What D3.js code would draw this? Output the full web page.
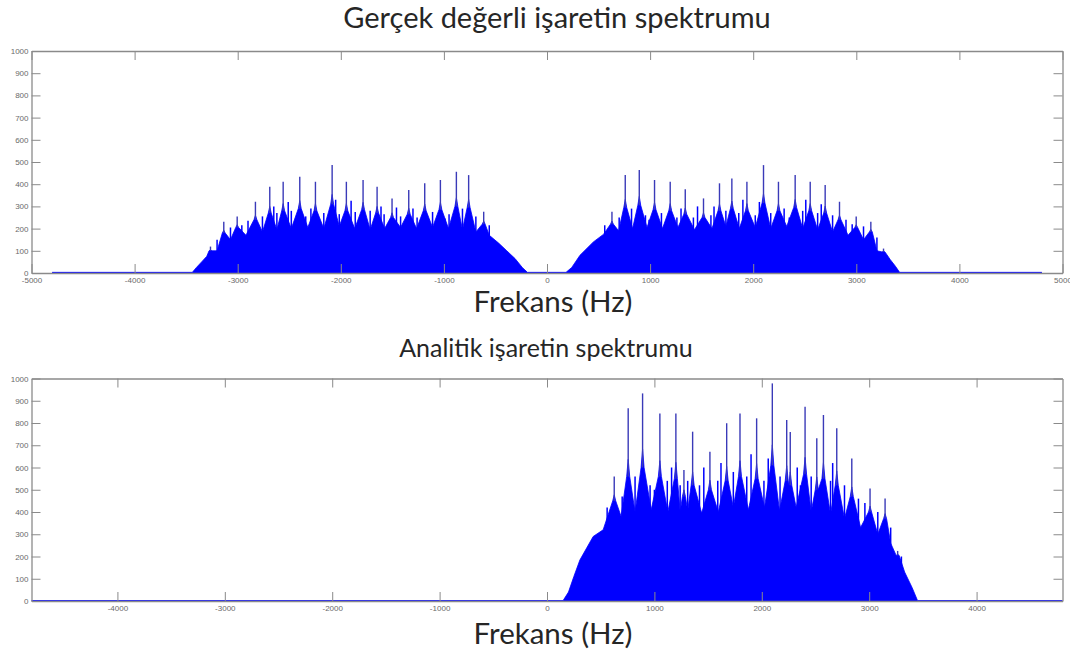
<!DOCTYPE html>
<html>
<head>
<meta charset="utf-8">
<script src="https://cdn.jsdelivr.net/npm/d3@7"></script>
<style>
  body { margin: 0; background: #fff; }
  svg { display: block; }
  .tick text { font-family: "Liberation Sans", Arial, sans-serif; font-size: 8px; fill: #6a6a6a; }
  .title { font-family: Lato, "Open Sans", sans-serif; fill: #262626; text-anchor: middle; }
</style>
</head>
<body>
<svg id="chart" width="1070" height="657"></svg>
<script>
// ---- Real-valued signal spectrum: body level of the filled magnitude ----
const realBodyHz  = [-4800, -3440, -3400, -3350, -3300, -3200, -3070, -2920, -2760, -2620, -2480, -2320,
                     -2165, -2015, -1865, -1715, -1575, -1420, -1265, -1110, -955, -820, -690, -560,
                     -470, -390, -310, -240, -190, 185, 240, 320, 450, 550, 695, 830, 970, 1120, 1270,
                     1430, 1600, 1735, 1865, 2020, 2170, 2325, 2480, 2625, 2770, 2920, 3070, 3200,
                     3330, 3380, 3420, 4800];
const realBodyVal = [3, 3, 25, 50, 75, 100, 150, 170, 185, 195, 200, 205,
                     200, 210, 200, 195, 200, 205, 200, 205, 200, 195, 185, 170,
                     135, 100, 65, 25, 3, 3, 25, 80, 140, 175, 190, 200, 205, 200, 205,
                     195, 200, 210, 200, 205, 200, 210, 200, 195, 185, 170, 150, 100,
                     60, 30, 3, 3];

// Harmonic peaks of the real-valued spectrum (tip and the hump under it)
const realPeakHz  = [-3264, -3135, -3005, -2828, -2689, -2559, -2398, -2246, -2084, -1946, -1784, -1648,
                     -1503, -1341, -1186, -1034, -879, -760, -614,
                     630, 759, 895, 1043, 1195, 1341, 1518, 1673, 1793, 1939, 2100, 2245, 2407,
                     2553, 2698, 2837, 2999, 3141, 3264];
const realPeakVal = [119, 231, 254, 321, 389, 411, 434, 411, 486, 411, 419, 389,
                     336, 374, 404, 419, 456, 441, 276,
                     276, 441, 464, 419, 411, 377, 336, 404, 426, 411, 486, 411, 441,
                     411, 396, 321, 254, 231, 110];
const realHumpVal = [100, 180, 205, 240, 270, 280, 290, 280, 310, 280, 285, 270,
                     250, 265, 280, 285, 300, 295, 220,
                     220, 295, 305, 285, 280, 265, 250, 280, 290, 280, 315, 280, 295,
                     280, 270, 240, 205, 185, 95];

// Smaller spikes riding on the body between harmonics
const realMinorHz  = [-3200, -3070, -2960, -2900, -2760, -2650, -2620, -2510, -2480, -2340, -2290, -2165,
                      -2050, -2015, -1900, -1860, -1715, -1610, -1580, -1460, -1420, -1300, -1260, -1110,
                      -990, -950, -820, -690, -560,
                      560, 700, 820, 955, 990, 1110, 1260, 1300, 1420, 1460, 1590, 1620, 1735,
                      1860, 1900, 2020, 2060, 2170, 2300, 2350, 2480, 2510, 2625, 2660, 2770,
                      2900, 2960, 3070, 3200];
const realMinorVal = [150, 205, 215, 235, 255, 300, 270, 320, 280, 255, 290, 270,
                      330, 265, 325, 275, 280, 300, 265, 295, 255, 290, 250, 275,
                      245, 265, 290, 255, 215,
                      215, 250, 290, 260, 240, 270, 250, 290, 250, 300, 260, 300, 280,
                      270, 330, 260, 320, 270, 290, 250, 280, 330, 270, 310, 260,
                      240, 220, 210, 160];

// ---- Analytic signal spectrum: body level ----
const anaBodyHz  = [-4800, 150, 200, 250, 306, 430, 523, 690, 820, 970, 1125, 1240, 1310, 1440, 1595,
                    1735, 1875, 2025, 2165, 2320, 2460, 2640, 2770, 2920, 3080, 3200, 3330, 3400, 3450, 4800];
const anaBodyVal = [2, 2, 40, 110, 184, 290, 320, 380, 400, 410, 400, 400, 405, 395, 400,
                    420, 410, 420, 405, 420, 400, 390, 370, 330, 300, 260, 130, 60, 2, 2];

// Harmonic peaks of the analytic spectrum
const anaPeakHz  = [626, 756, 890, 1051, 1200, 1275, 1356, 1517, 1673, 1797, 1952, 2098, 2232, 2265,
                    2403, 2512, 2574, 2698, 2838, 3008, 3148, 3265];
const anaPeakVal = [559, 866, 933, 843, 843, 589, 761, 671, 799, 843, 821, 978, 813, 760,
                    873, 731, 836, 776, 641, 506, 461, 225];
const anaHumpVal = [450, 560, 600, 560, 550, 470, 520, 500, 540, 560, 550, 610, 540, 520,
                    570, 500, 550, 520, 470, 400, 370, 205];

// Smaller spikes riding on the analytic body
const anaMinorHz  = [560, 700, 820, 960, 1000, 1120, 1160, 1240, 1310, 1420, 1460, 1590, 1620, 1735,
                     1860, 1900, 2020, 2060, 2170, 2330, 2360, 2460, 2640, 2660, 2770, 2900, 2960,
                     3080, 3200, 3300];
const anaMinorVal = [420, 470, 560, 520, 500, 540, 600, 520, 540, 520, 600, 540, 620, 580,
                     560, 660, 540, 640, 560, 600, 520, 560, 540, 620, 520, 460, 440,
                     400, 330, 200];

// ---- Axis ticks ----
const realXTicks = [-5000, -4000, -3000, -2000, -1000, 0, 1000, 2000, 3000, 4000, 5000];
const anaXTicks  = [-4000, -3000, -2000, -1000, 0, 1000, 2000, 3000, 4000];
const yTicks     = [0, 100, 200, 300, 400, 500, 600, 700, 800, 900, 1000];

// ---- Titles ----
const titleReal = "Gerçek değerli işaretin spektrumu";
const titleAna  = "Analitik işaretin spektrumu";
const xLabel    = "Frekans (Hz)";

const svg = d3.select("#chart");
const spikeHalfHz = 14;   // half width of the narrow spike base, in Hz
const fillBlue = "#0000ff";

function panel(cfg) {
  const x = d3.scaleLinear().domain(cfg.xDomain).range([cfg.left, cfg.right]);
  const y = d3.scaleLinear().domain([0, 1000]).range([cfg.bottom, cfg.top]);
  const g = svg.append("g");

  // outline of the filled spectrum: body points plus the shoulders of each spike
  const pts = cfg.bodyHz.map((f, i) => [f, cfg.bodyVal[i]]);
  cfg.peakHz.forEach((f, i) => {
    pts.push([f - spikeHalfHz, cfg.humpVal[i]]);
    pts.push([f, cfg.humpVal[i] + (cfg.peakVal[i] - cfg.humpVal[i]) * 0.25]);
    pts.push([f + spikeHalfHz, cfg.humpVal[i]]);
  });
  pts.sort((a, b) => a[0] - b[0]);

  const area = d3.area().x(d => x(d[0])).y0(y(0)).y1(d => y(d[1]));
  const line = d3.line().x(d => x(d[0])).y(d => y(d[1]));

  g.append("path").attr("d", area(pts)).attr("fill", fillBlue);
  g.append("path").attr("d", line(pts)).attr("fill", "none")
    .attr("stroke", fillBlue).attr("stroke-width", 0.8);

  // minor spikes
  g.selectAll("line.minor").data(cfg.minorHz).join("line")
    .attr("class", "minor")
    .attr("x1", d => x(d)).attr("x2", d => x(d))
    .attr("y1", y(0))
    .attr("y2", (d, i) => y(cfg.minorVal[i]))
    .attr("stroke", fillBlue).attr("stroke-width", 1.5);

  // narrow spikes on top of the humps
  g.selectAll("line.spike").data(cfg.peakHz).join("line")
    .attr("class", "spike")
    .attr("x1", d => x(d)).attr("x2", d => x(d))
    .attr("y1", (d, i) => y(cfg.humpVal[i]))
    .attr("y2", (d, i) => y(cfg.peakVal[i]))
    .attr("stroke", "#3a3ab8").attr("stroke-width", 1.4);

  // box with inward ticks on all four sides
  const fmt = d => String(d);
  const axStyle = sel => {
    sel.selectAll(".domain").attr("stroke", "#8a8a8a").attr("stroke-width", 1.3);
    sel.selectAll(".tick line").attr("stroke", "#8a8a8a").attr("stroke-width", 1);
  };
  g.append("g").attr("transform", `translate(0,${cfg.bottom})`)
    .call(d3.axisBottom(x).tickValues(cfg.xTicks).tickSize(-9).tickSizeOuter(0)
      .tickPadding(3).tickFormat(fmt))
    .call(axStyle).call(s => s.selectAll("text").attr("dy", "0.85em"));
  g.append("g").attr("transform", `translate(0,${cfg.top})`)
    .call(d3.axisTop(x).tickValues(cfg.xTicks).tickSize(-9).tickSizeOuter(0).tickFormat(""))
    .call(axStyle);
  g.append("g").attr("transform", `translate(${cfg.left},0)`)
    .call(d3.axisLeft(y).tickValues(yTicks).tickSize(-9).tickSizeOuter(0)
      .tickPadding(3).tickFormat(fmt))
    .call(axStyle);
  g.append("g").attr("transform", `translate(${cfg.right},0)`)
    .call(d3.axisRight(y).tickValues(yTicks).tickSize(-9).tickSizeOuter(0).tickFormat(""))
    .call(axStyle);
  g.selectAll(".domain").attr("fill", "none");
}

panel({ xDomain: [-5000, 5000], left: 31.5, right: 1062.5, top: 51, bottom: 273,
        bodyHz: realBodyHz, bodyVal: realBodyVal,
        peakHz: realPeakHz, peakVal: realPeakVal, humpVal: realHumpVal,
        minorHz: realMinorHz, minorVal: realMinorVal, xTicks: realXTicks });

panel({ xDomain: [-4800, 4800], left: 31.5, right: 1062.5, top: 378.5, bottom: 601,
        bodyHz: anaBodyHz, bodyVal: anaBodyVal,
        peakHz: anaPeakHz, peakVal: anaPeakVal, humpVal: anaHumpVal,
        minorHz: anaMinorHz, minorVal: anaMinorVal, xTicks: anaXTicks });

svg.append("text").attr("class", "title").attr("x", 557).attr("y", 28)
  .style("font-size", "29px").text(titleReal);
svg.append("text").attr("class", "title").attr("x", 553).attr("y", 312)
  .style("font-size", "29.5px").text(xLabel);
svg.append("text").attr("class", "title").attr("x", 546).attr("y", 357)
  .style("font-size", "25px").text(titleAna);
svg.append("text").attr("class", "title").attr("x", 553).attr("y", 644)
  .style("font-size", "29.5px").text(xLabel);
</script>
</body>
</html>
